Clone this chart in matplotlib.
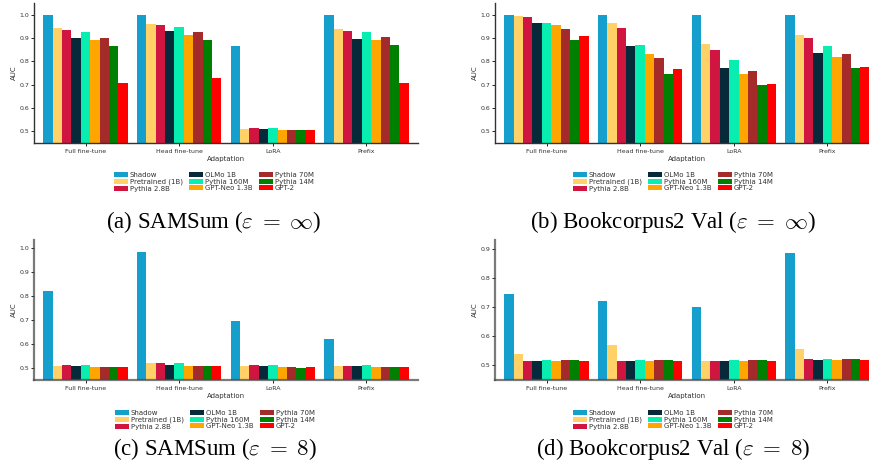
import numpy as np
import matplotlib
matplotlib.use("Agg")
import matplotlib.pyplot as plt

# adaptations (x groups) and models (bars)
adaptations = ["Full fine-tune", "Head fine-tune", "LoRA", "Prefix"]
models = ["Shadow", "Pretrained (1B)", "Pythia 2.8B", "OLMo 1B", "Pythia 160M",
          "GPT-Neo 1.3B", "Pythia 70M", "Pythia 14M", "GPT-2"]
colors = ["#149fcd", "#ffd166", "#cf1540", "#072a3a", "#07eeb0",
          "#ffa500", "#a52a2a", "#008000", "#ff0000"]

# AUC per model, one value per adaptation
samsum_inf = [
    [1.000, 1.000, 0.866, 1.000],
    [0.943, 0.961, 0.509, 0.940],
    [0.935, 0.957, 0.513, 0.931],
    [0.900, 0.931, 0.509, 0.897],
    [0.927, 0.948, 0.513, 0.927],
    [0.892, 0.914, 0.504, 0.892],
    [0.900, 0.927, 0.504, 0.905],
    [0.866, 0.892, 0.504, 0.871],
    [0.707, 0.728, 0.504, 0.707],
]
book_inf = [
    [1.000, 1.000, 1.000, 1.000],
    [0.996, 0.966, 0.875, 0.914],
    [0.991, 0.944, 0.849, 0.901],
    [0.966, 0.866, 0.772, 0.836],
    [0.966, 0.872, 0.806, 0.866],
    [0.957, 0.832, 0.746, 0.819],
    [0.940, 0.815, 0.759, 0.832],
    [0.892, 0.746, 0.698, 0.772],
    [0.909, 0.767, 0.703, 0.776],
]
samsum_8 = [
    [0.821, 0.985, 0.696, 0.620],
    [0.507, 0.520, 0.507, 0.507],
    [0.511, 0.520, 0.511, 0.507],
    [0.507, 0.511, 0.507, 0.507],
    [0.511, 0.520, 0.511, 0.511],
    [0.503, 0.507, 0.503, 0.503],
    [0.503, 0.507, 0.503, 0.503],
    [0.503, 0.507, 0.499, 0.503],
    [0.503, 0.507, 0.503, 0.503],
]
book_8 = [
    [0.747, 0.723, 0.702, 0.887],
    [0.541, 0.569, 0.516, 0.555],
    [0.516, 0.516, 0.516, 0.523],
    [0.516, 0.516, 0.516, 0.520],
    [0.520, 0.520, 0.520, 0.523],
    [0.516, 0.516, 0.516, 0.520],
    [0.520, 0.520, 0.520, 0.523],
    [0.520, 0.520, 0.520, 0.523],
    [0.516, 0.516, 0.516, 0.520],
]

captions = [r"(a) SAMSum ($\varepsilon\;=\;\infty$)",
            r"(b) Bookcorpus2 Val ($\varepsilon\;=\;\infty$)",
            r"(c) SAMSum ($\varepsilon\;=\;8$)",
            r"(d) Bookcorpus2 Val ($\varepsilon\;=\;8$)"]

plt.rcParams["mathtext.fontset"] = "cm"

W, H = 869, 473
fig = plt.figure(figsize=(W / 100, H / 100), dpi=100)

# (left px, top px, caption center x px, caption y px, legend top px)
panels = [
    (34, 3, 214, 222, 167, samsum_inf, True),
    (495, 3, 673, 222, 167, book_inf, True),
    (34, 240, 215, 449, 405, samsum_8, False),
    (495, 240, 673, 449, 405, book_8, False),
]
aw, ah = 384, 140
x = np.arange(len(adaptations))
bw = 0.1

for i, (lx, ty, cx, cy, ly, data, top) in enumerate(panels):
    ax = fig.add_axes([lx / W, 1 - (ty + ah) / H, aw / W, ah / H])
    for j, m in enumerate(models):
        ax.bar(x + (j - 4) * bw, data[j], width=bw, color=colors[j],
               label=m, linewidth=0)
    ax.set_ylim(bottom=0.45)
    ax.set_xlim(-0.55, 3.55)
    ax.set_xticks(x)
    ax.set_xticklabels(adaptations, fontsize=4.5, color="#333333")
    ax.tick_params(axis="y", labelsize=4.5, labelcolor="#333333",
                   length=2, width=0.6, pad=1.5)
    ax.tick_params(axis="x", length=2, width=0.6, pad=2)
    ax.set_xlabel("Adaptation", fontsize=5, color="#333333", labelpad=2)
    ax.set_ylabel("AUC", fontsize=5, color="#333333", labelpad=2)
    for s in ["top", "right"]:
        ax.spines[s].set_visible(False)
    for s in ["left", "bottom"]:
        if top:
            ax.spines[s].set_color("#333333")
            ax.spines[s].set_linewidth(1.0)
        else:
            ax.spines[s].set_color((0.3, 0.3, 0.3, 0.75))
            ax.spines[s].set_linewidth(1.6)
        ax.spines[s].set_zorder(5)
    ax.legend(loc="upper center", bbox_to_anchor=(cx / W, 1 - ly / H),
              bbox_transform=fig.transFigure, ncol=3, frameon=False,
              fontsize=5, labelspacing=0.1, columnspacing=0.9,
              handletextpad=0.3, handlelength=2.0, borderpad=0.2,
              labelcolor="#333333")
    fig.text(cx / W, 1 - cy / H, captions[i], ha="center", va="center",
             fontsize=16.5, family="Liberation Serif")

fig.savefig("out.png", dpi=100)
